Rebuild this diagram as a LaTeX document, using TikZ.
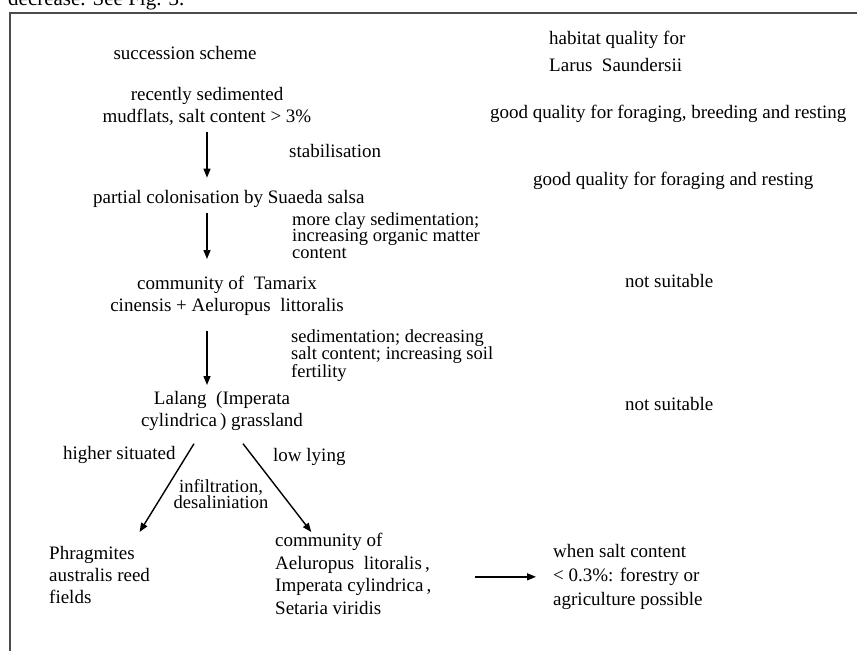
\documentclass[tikz,border=0pt]{standalone}
\usepackage{fontspec}
\setmainfont{Liberation Serif}
\usetikzlibrary{arrows.meta}
\begin{document}
\begin{tikzpicture}[x=1pt,y=-1pt,
  lbl/.style={inner sep=0pt, font=\fontsize{19}{22}\selectfont},
  note/.style={inner sep=0pt, align=left, font=\fontsize{18.5}{16.5}\selectfont},
  flow/.style={-{Triangle[length=9pt,width=7pt]}, line width=1.4pt},
  frameline/.style={draw=black!70, line width=1.2pt}]
\useasboundingbox (0,0) rectangle (857,651);
\clip (0,0) rectangle (857,651);
% frame
\node[lbl, anchor=base west, font=\fontsize{21}{24}\selectfont] (dec) at (8,5) {decrease. See Fig. 3.};
\draw[frameline] (857,13) -- (10,13) -- (10,651);
% headings
\node[lbl, anchor=base] (ss) at (185,59) {succession scheme};
\node[lbl, anchor=base west] (hq) at (549,44) {habitat quality for};
\node[lbl, anchor=base west] (lar) at (549,71) {Larus\ \ Saundersii};
% succession chain
\node[lbl, align=center, anchor=north] (mud) at (207,87) {recently sedimented\\mudflats, salt content > 3\%};
\node[lbl, anchor=base west] (gq1) at (490,118) {good quality for foraging, breeding and resting};
\node[lbl, anchor=base west] (stab) at (289,157) {stabilisation};
\node[lbl, anchor=base west] (gq2) at (533,185) {good quality for foraging and resting};
\node[lbl, anchor=base west] (part) at (93,203) {partial\ colonisation\ by Suaeda salsa};
\node[note, anchor=north west] (clay) at (292,212) {more clay sedimentation;\\increasing organic matter\\content};
\node[lbl, align=center, anchor=north] (tam) at (227,276) {community of\ \ Tamarix\\cinensis + Aeluropus\ \ littoralis};
\node[lbl, anchor=base west] (ns1) at (625,287) {not suitable};
\node[note, anchor=north west] (sed) at (291,329) {sedimentation; decreasing\\salt content; increasing soil\\fertility};
\node[lbl, align=center, anchor=north] (lal) at (222,391) {Lalang\ \ (Imperata\\cylindrica\,) grassland};
\node[lbl, anchor=base west] (ns2) at (625,410) {not suitable};
\node[lbl, anchor=base west] (hs) at (63,459) {higher situated};
\node[lbl, anchor=base west] (ll) at (273,461) {low lying};
\node[note, align=center, anchor=north] (inf) at (221,479) {infiltration,\\desaliniation};
\node[lbl, align=left, anchor=north west] (phr) at (49,546) {Phragmites\\australis reed\\fields};
\node[lbl, align=left, anchor=north west, font=\fontsize{19}{22.7}\selectfont] (com) at (275,533) {community of\\Aeluropus\ \ litoralis\,,\\Imperata cylindrica\,,\\Setaria viridis};
\node[lbl, align=left, anchor=north west, font=\fontsize{19}{24}\selectfont] (wsc) at (553,544) {when salt content\\< 0.3\%: forestry or\\agriculture possible};
% connectors
\draw[flow, shorten <=6pt, shorten >=12pt] (mud.south) -- (mud.south |- part.north);
\draw[flow, shorten <=6pt, shorten >=17pt] (mud.south |- part.south) -- (mud.south |- tam.north);
\draw[flow, shorten <=15pt, shorten >=6pt] (mud.south |- tam.south) -- (mud.south |- lal.north);
\draw[flow] ([xshift=-28pt,yshift=-13pt]lal.south) -- ([xshift=40pt,yshift=14pt]phr.north);
\draw[flow] ([xshift=21pt,yshift=-13pt]lal.south) -- ([xshift=-42pt,yshift=1pt]com.north);
\draw[flow, shorten <=43pt, shorten >=17pt] (com.east |- wsc.west) -- (wsc.west);
\end{tikzpicture}
\end{document}
